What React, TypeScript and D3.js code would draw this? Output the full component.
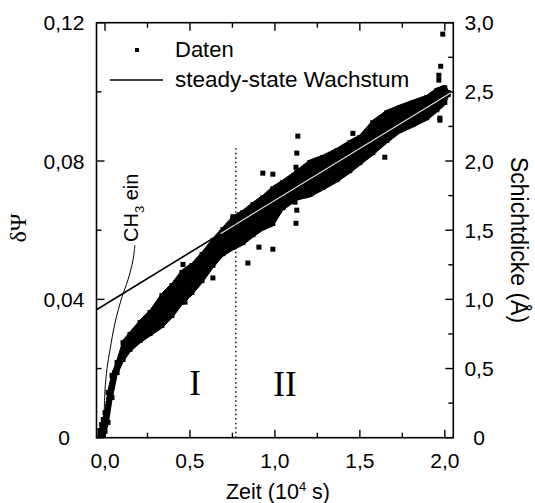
import React from 'react';
import * as d3 from 'd3';

// ---- tick definitions ----
const timeTicks = [0, 0.5, 1.0, 1.5, 2.0];
const timeTickLabels = ['0,0', '0,5', '1,0', '1,5', '2,0'];
const timeMinor = [0.25, 0.75, 1.25, 1.75];
const psiTicks = [0, 0.04, 0.08, 0.12];
const psiTickLabels = ['0', '0,04', '0,08', '0,12'];
const psiMinor = [0.02, 0.06, 0.1];
const thickTicks = [0, 0.5, 1.0, 1.5, 2.0, 2.5, 3.0];
const thickTickLabels = ['0', '0,5', '1,0', '1,5', '2,0', '2,5', '3,0'];
const thickMinor = [0.25, 0.75, 1.25, 1.75, 2.25, 2.75];

// ---- data cloud (dense measurement band: lower / upper envelope) ----
const bandTime = [-0.03, -0.02, -0.01, 0.0, 0.018, 0.041, 0.071, 0.106, 0.147, 0.206, 0.265, 0.335, 0.394, 0.453, 0.512, 0.571, 0.635, 0.694, 0.753, 0.812, 0.871, 0.929, 0.988, 1.047, 1.129, 1.206, 1.282, 1.365, 1.441, 1.5, 1.576, 1.659, 1.735, 1.812, 1.894, 1.953, 2.0, 2.02];
const bandUpper = [0.0028, 0.0045, 0.006, 0.008, 0.0138, 0.0187, 0.0225, 0.0282, 0.0306, 0.034, 0.0369, 0.0418, 0.0447, 0.0485, 0.0505, 0.0537, 0.0577, 0.0609, 0.0641, 0.0658, 0.0681, 0.0701, 0.0727, 0.0745, 0.0774, 0.0803, 0.0817, 0.0837, 0.086, 0.0875, 0.0918, 0.0947, 0.0962, 0.0976, 0.099, 0.1011, 0.1019, 0.1005];
const bandLower = [0, 0, 0, 0.0011, 0.0037, 0.0109, 0.0181, 0.0219, 0.0248, 0.0274, 0.0294, 0.0317, 0.0346, 0.0384, 0.0413, 0.0447, 0.0491, 0.0525, 0.0543, 0.0557, 0.058, 0.06, 0.0612, 0.0658, 0.0687, 0.0696, 0.0716, 0.0739, 0.0765, 0.0788, 0.0817, 0.0852, 0.0881, 0.0898, 0.0918, 0.0941, 0.0962, 0.0985];

// ---- scattered single points ----
const outlierTime = [0.929, 0.988, 0.906, 0.988, 0.841, 0.471, 0.459, 0.635, 0.753, 0.794, 1.135, 1.129, 1.124, 1.118, 1.129, 1.124, 1.4, 1.459, 1.647, 1.988, 1.976, 1.965, 1.965, 1.971, 1.971];
const outlierPsi = [0.0765, 0.0762, 0.0551, 0.0545, 0.0505, 0.0392, 0.0501, 0.0462, 0.0639, 0.0645, 0.0872, 0.0823, 0.0782, 0.0681, 0.0658, 0.062, 0.0765, 0.088, 0.0811, 0.1167, 0.1074, 0.1048, 0.1034, 0.0918, 0.0924];

// ---- steady-state growth fit line ----
const steadyTime = [-0.05, 2.05];
const steadyPsi = [0.037, 0.1002];
const steadyOverlayTime = [0.68, 2.05];
const steadyOverlayPsi = [0.059, 0.1002];

// ---- CH3 ein annotation curve ----
const ch3Time = [-0.006, 0.0, 0.012, 0.029, 0.059, 0.1, 0.135, 0.165, 0.176];
const ch3Psi = [0.003, 0.0138, 0.02, 0.0253, 0.0332, 0.0407, 0.0456, 0.0514, 0.0557];

// ---- phase boundary ----
const boundaryTime = 0.77;
const boundaryTop = 0.084;

const W = 535;
const H = 503;
const L = 96.5, R = 453.3, T = 22.7, B = 437.7;

export default function App() {
  const x = d3.scaleLinear().domain([-0.05, 2.05]).range([L, R]);
  const y = d3.scaleLinear().domain([0, 0.12]).range([B, T]);
  const yR = d3.scaleLinear().domain([0, 3.0]).range([B, T]);

  const band = bandTime.map((t, i) => ({ t, lo: bandLower[i], hi: bandUpper[i] }));
  const area = d3
    .area<{ t: number; lo: number; hi: number }>()
    .x((d) => x(d.t))
    .y0((d) => y(d.lo))
    .y1((d) => y(d.hi))
    .curve(d3.curveLinear);
  const line = d3
    .line<[number, number]>()
    .x((d) => x(d[0]))
    .y((d) => y(d[1]));
  const ch3Line = d3
    .line<[number, number]>()
    .x((d) => x(d[0]))
    .y((d) => y(d[1]))
    .curve(d3.curveCatmullRom);

  const steady: [number, number][] = steadyTime.map((t, i) => [t, steadyPsi[i]]);
  const steadyOv: [number, number][] = steadyOverlayTime.map((t, i) => [t, steadyOverlayPsi[i]]);
  const ch3: [number, number][] = ch3Time.map((t, i) => [t, ch3Psi[i]]);

  const ms = 5;
  const font = 'Liberation Sans, Arial, Helvetica, sans-serif';
  const serif = 'Liberation Serif, Times New Roman, serif';
  const tickFs = 21;

  return (
    <svg
      width={W}
      height={H}
      viewBox={`0 0 ${W} ${H}`}
      style={{ position: 'absolute', left: 0, top: 0, background: '#fff' }}
      fontFamily={font}
    >
      <defs>
        <clipPath id="plot">
          <rect x={L} y={T} width={R - L} height={B - T} />
        </clipPath>
      </defs>

      <g clipPath="url(#plot)">
        <path d={line(steady) || ''} stroke="#000" strokeWidth={1.6} fill="none" />
        <path d={area(band) || ''} fill="#000" stroke="#000" strokeWidth={1} />
        {band.map((d, i) => (
          <g key={'e' + i}>
            <rect x={x(d.t) - ms / 2} y={y(d.hi)} width={ms} height={ms} fill="#000" />
            <rect x={x(d.t) - ms / 2} y={y(d.lo) - ms} width={ms} height={ms} fill="#000" />
          </g>
        ))}
        {outlierTime.map((t, i) => (
          <rect key={'o' + i} x={x(t) - ms / 2} y={y(outlierPsi[i]) - ms / 2} width={ms} height={ms} fill="#000" />
        ))}
        <path d={line(steadyOv) || ''} stroke="#e8e8e8" strokeWidth={1.1} fill="none" />
        <path d={ch3Line(ch3) || ''} stroke="#000" strokeWidth={1} fill="none" />
        <line
          x1={x(boundaryTime)}
          x2={x(boundaryTime)}
          y1={y(0)}
          y2={y(boundaryTop)}
          stroke="#000"
          strokeWidth={1.4}
          strokeDasharray="1.5,3"
        />
      </g>

      <rect x={L} y={T} width={R - L} height={B - T} fill="none" stroke="#000" strokeWidth={1.6} />

      {timeTicks.map((t, i) => (
        <g key={'xt' + i}>
          <line x1={x(t)} x2={x(t)} y1={B} y2={B - 8} stroke="#000" strokeWidth={1.4} />
          <line x1={x(t)} x2={x(t)} y1={T} y2={T + 8} stroke="#000" strokeWidth={1.4} />
          <text x={x(t)} y={B + 30} textAnchor="middle" fontSize={tickFs}>
            {timeTickLabels[i]}
          </text>
        </g>
      ))}
      {timeMinor.map((t, i) => (
        <g key={'xm' + i}>
          <line x1={x(t)} x2={x(t)} y1={B} y2={B - 5} stroke="#000" strokeWidth={1.4} />
          <line x1={x(t)} x2={x(t)} y1={T} y2={T + 5} stroke="#000" strokeWidth={1.4} />
        </g>
      ))}

      {psiTicks.map((v, i) => (
        <g key={'yt' + i}>
          <line x1={L} x2={L + 8} y1={y(v)} y2={y(v)} stroke="#000" strokeWidth={1.4} />
          <text x={64} y={y(v) + 7.5} textAnchor="middle" fontSize={tickFs}>
            {psiTickLabels[i]}
          </text>
        </g>
      ))}
      {psiMinor.map((v, i) => (
        <line key={'ym' + i} x1={L} x2={L + 5} y1={y(v)} y2={y(v)} stroke="#000" strokeWidth={1.4} />
      ))}

      {thickTicks.map((v, i) => (
        <g key={'rt' + i}>
          <line x1={R} x2={R - 8} y1={yR(v)} y2={yR(v)} stroke="#000" strokeWidth={1.4} />
          <text x={479} y={yR(v) + 7.5} textAnchor="middle" fontSize={tickFs}>
            {thickTickLabels[i]}
          </text>
        </g>
      ))}
      {thickMinor.map((v, i) => (
        <line key={'rm' + i} x1={R} x2={R - 5} y1={yR(v)} y2={yR(v)} stroke="#000" strokeWidth={1.4} />
      ))}

      <text x={278} y={499} textAnchor="middle" fontSize={21.5}>
        Zeit (10<tspan dy={-8} fontSize={13}>4</tspan>
        <tspan dy={8}> s)</tspan>
      </text>
      <text transform={`translate(26,228) rotate(-90)`} textAnchor="middle" fontSize={24} fontFamily={serif}>
        δΨ
      </text>
      <text transform={`translate(511,240) rotate(90)`} textAnchor="middle" fontSize={23}>
        Schichtdicke (Å)
      </text>

      <rect x={137 - 2} y={50 - 2} width={4} height={4} fill="#000" />
      <text x={175} y={57} fontSize={22}>
        Daten
      </text>
      <line x1={110} x2={163} y1={80} y2={80} stroke="#000" strokeWidth={1.6} />
      <text x={175} y={87} fontSize={22.5}>
        steady-state Wachstum
      </text>

      <text transform={`translate(138,242) rotate(-90)`} fontSize={20}>
        CH<tspan dy={6} fontSize={13}>3</tspan>
        <tspan dy={-6}> ein</tspan>
      </text>
      <text x={195} y={395} textAnchor="middle" fontSize={35} fontFamily={serif}>
        I
      </text>
      <text x={285} y={396} textAnchor="middle" fontSize={35} fontFamily={serif}>
        II
      </text>
    </svg>
  );
}
